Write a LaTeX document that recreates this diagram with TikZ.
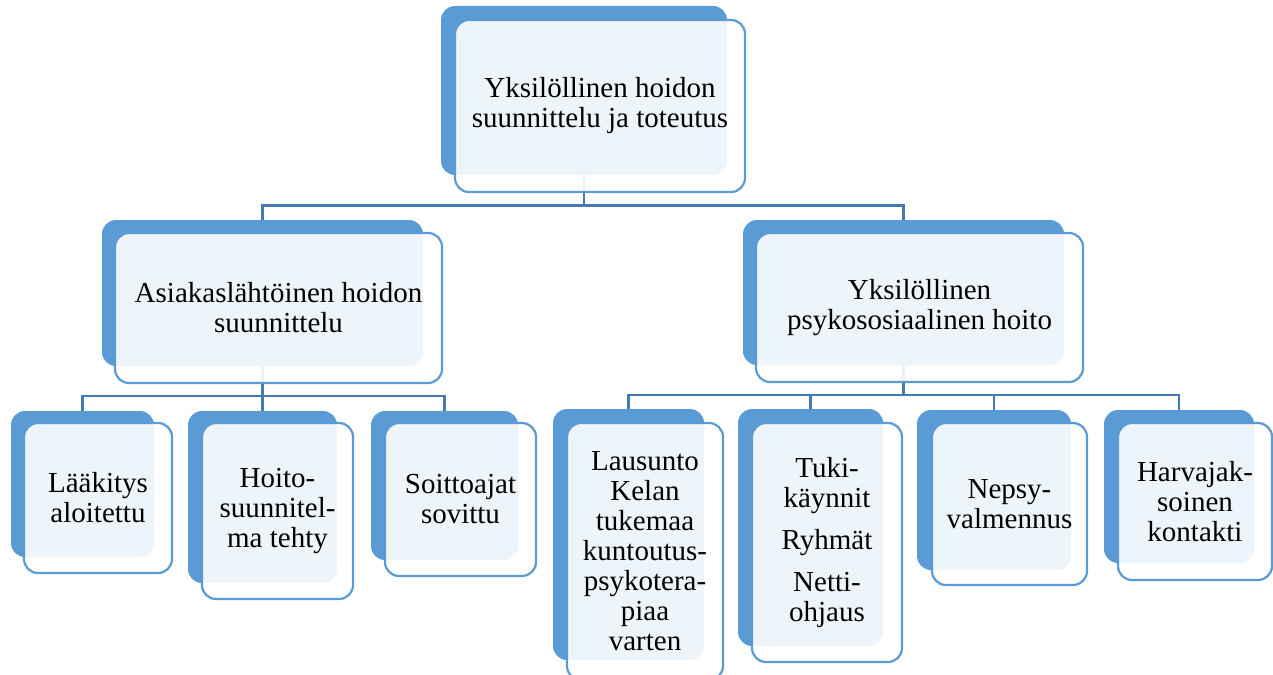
\documentclass[tikz,border=0pt]{standalone}
\usepackage{fontspec}
\setmainfont{Liberation Serif}
\definecolor{acc}{RGB}{91,155,213}
\definecolor{connc}{RGB}{70,122,178}
\pgfdeclarelayer{bg}
\pgfsetlayers{bg,main}
\tikzset{
  backbox/.style={fill=acc, draw=none, rounded corners=14pt, inner sep=0pt},
  frontbox/.style={draw=acc, line width=2.2pt, fill=white, fill opacity=0.9, text opacity=1,
    rounded corners=14pt, inner sep=0pt, align=center, font=\fontsize{29}{30}\selectfont},
  connline/.style={draw=connc, line width=2.2pt},
}
\begin{document}
\begin{tikzpicture}[x=1pt,y=-1pt]
\useasboundingbox (0,0) rectangle (1273,674);
% level 1
\node[backbox, minimum width=286pt, minimum height=169pt] (t0b) at (584,90.5) {};
\node[frontbox, minimum width=290pt, minimum height=172pt] (t0f) at (600,106) {Yksilöllinen hoidon\\suunnittelu ja toteutus};
% level 2
\node[backbox, minimum width=321pt, minimum height=146pt] (ab) at (262.5,293) {};
\node[frontbox, minimum width=327pt, minimum height=150pt] (af) at (278.5,308) {Asiakaslähtöinen hoidon\\suunnittelu};
\node[backbox, minimum width=321pt, minimum height=145pt] (yb) at (903.5,292.5) {};
\node[frontbox, minimum width=327pt, minimum height=149pt] (yf) at (919.5,307.5) {Yksilöllinen\\psykososiaalinen hoito};
% level 3 left
\node[backbox, minimum width=143pt, minimum height=146pt] (c1b) at (82.5,484) {};
\node[frontbox, minimum width=148pt, minimum height=150pt] (c1f) at (98,498) {Lääkitys\\aloitettu};
\node[backbox, minimum width=149pt, minimum height=172pt] (c2b) at (262.5,497) {};
\node[frontbox, minimum width=151pt, minimum height=176pt] (c2f) at (277.5,511) {Hoito-\\suunnitel-\\ma tehty};
\node[backbox, minimum width=147pt, minimum height=149pt] (c3b) at (444.5,485.5) {};
\node[frontbox, minimum width=151pt, minimum height=153pt] (c3f) at (460.5,499.5) {Soittoajat\\sovittu};
% level 3 right
\node[backbox, minimum width=151pt, minimum height=251pt] (d1b) at (628.5,534.5) {};
\node[frontbox, minimum width=156pt, minimum height=257pt] (d1f) at (645,551.5) {Lausunto\\Kelan\\tukemaa\\kuntoutus-\\psykotera-\\piaa\\varten};
\node[backbox, minimum width=145pt, minimum height=237pt] (d2b) at (810.5,527.5) {};
\node[frontbox, minimum width=150pt, minimum height=239pt] (d2f) at (827,542.5) {Tuki-\\käynnit\\[12pt]Ryhmät\\[12pt]Netti-\\ohjaus};
\node[backbox, minimum width=154pt, minimum height=160pt] (d3b) at (994,490) {};
\node[frontbox, minimum width=155pt, minimum height=162pt] (d3f) at (1009.5,504) {Nepsy-\\valmennus};
\node[backbox, minimum width=150pt, minimum height=153pt] (d4b) at (1179,486.5) {};
\node[frontbox, minimum width=154pt, minimum height=157pt] (d4f) at (1195,501.5) {Harvajak-\\soinen\\kontakti};
% connectors
\coordinate (bus1) at (0,205.5);
\coordinate (bus2) at (0,396);
\coordinate (bus3) at (0,395);
\begin{pgfonlayer}{bg}
\draw[connline] (t0b.south) -- (t0b.south |- bus1) -| (ab.north);
\draw[connline] (t0b.south |- bus1) -| (yb.north);
\draw[connline] (ab.south) -- (c2b.north);
\draw[connline] (ab.south |- bus2) -| (c1b.north);
\draw[connline] (ab.south |- bus2) -| (c3b.north);
\draw[connline] (yb.south) -- (yb.south |- bus3) -| (d1b.north);
\draw[connline] (yb.south |- bus3) -| (d2b.north);
\draw[connline] (yb.south |- bus3) -| (d3b.north);
\draw[connline] (yb.south |- bus3) -| (d4b.north);
\end{pgfonlayer}
\end{tikzpicture}
\end{document}
